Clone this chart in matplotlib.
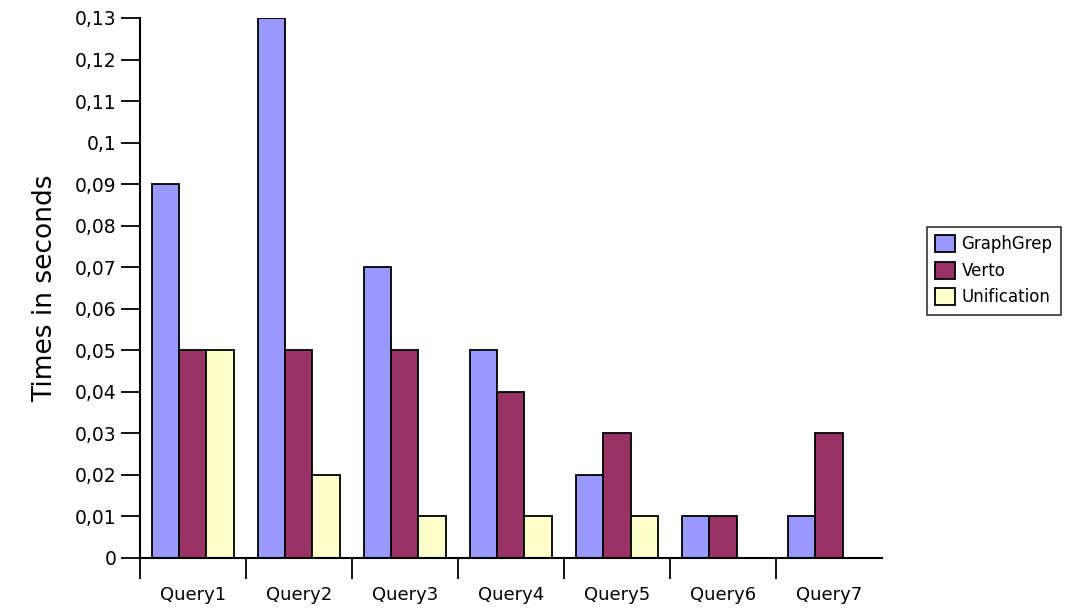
import matplotlib
matplotlib.use("Agg")
import matplotlib.pyplot as plt
from matplotlib.ticker import FixedLocator, FuncFormatter
import numpy as np

categories = ["Query1", "Query2", "Query3", "Query4", "Query5", "Query6", "Query7"]
graphgrep = [0.09, 0.13, 0.07, 0.05, 0.02, 0.01, 0.01]
verto = [0.05, 0.05, 0.05, 0.04, 0.03, 0.01, 0.03]
unification = [0.05, 0.02, 0.01, 0.01, 0.01, 0.0, 0.0]
series_names = ["GraphGrep", "Verto", "Unification"]
colors = ["#9999FF", "#993366", "#FFFFCC"]

plt.rcParams['font.family'] = ['DejaVu Sans']

fig = plt.figure(figsize=(10.7, 6.16), dpi=100)
ax = fig.add_axes([0.1308, 0.0942, 0.6935, 0.8766])

x = np.arange(len(categories))
w = 0.255
handles = []
for i, (vals, name, col) in enumerate(zip([graphgrep, verto, unification], series_names, colors)):
    b = ax.bar(x + (i - 1) * w, vals, width=w, color=col, edgecolor="black",
               linewidth=1.3, label=name, zorder=2)
    handles.append(b)

ax.set_xlim(-0.5, len(categories) - 0.5)
ax.set_ylim(0, 0.13)

yt = np.round(np.arange(0, 0.1301, 0.01), 2)
ax.set_yticks(yt)

def fmt(v, pos):
    if abs(v) < 1e-9:
        return "0"
    s = ("%.2f" % v).rstrip("0")
    return s.replace(".", ",")

ax.yaxis.set_major_formatter(FuncFormatter(fmt))
ax.tick_params(axis="y", direction="out", length=14, width=1.3, labelsize=13.5, pad=3)

ax.set_xticks(x)
ax.set_xticklabels(categories, fontsize=13)
ax.tick_params(axis="x", which="major", length=0, pad=20)
ax.xaxis.set_minor_locator(FixedLocator(np.arange(-0.5, len(categories) - 1, 1.0)))
ax.tick_params(axis="x", which="minor", direction="out", length=15, width=1.3)

for s in ["top", "right"]:
    ax.spines[s].set_visible(False)
for s in ["left", "bottom"]:
    ax.spines[s].set_linewidth(1.5)

ax.set_ylabel("Times in seconds", fontsize=19, labelpad=12)

leg = fig.legend(handles=handles, labels=series_names, loc="upper left",
                 bbox_to_anchor=(0.866, 0.632), fontsize=12, frameon=True,
                 fancybox=False, edgecolor="black", handlelength=1.2,
                 handleheight=1.2, handletextpad=0.4, borderpad=0.5,
                 labelspacing=0.5, borderaxespad=0)
leg.get_frame().set_linewidth(1.2)

fig.savefig("out.png", dpi=100, facecolor="white")
